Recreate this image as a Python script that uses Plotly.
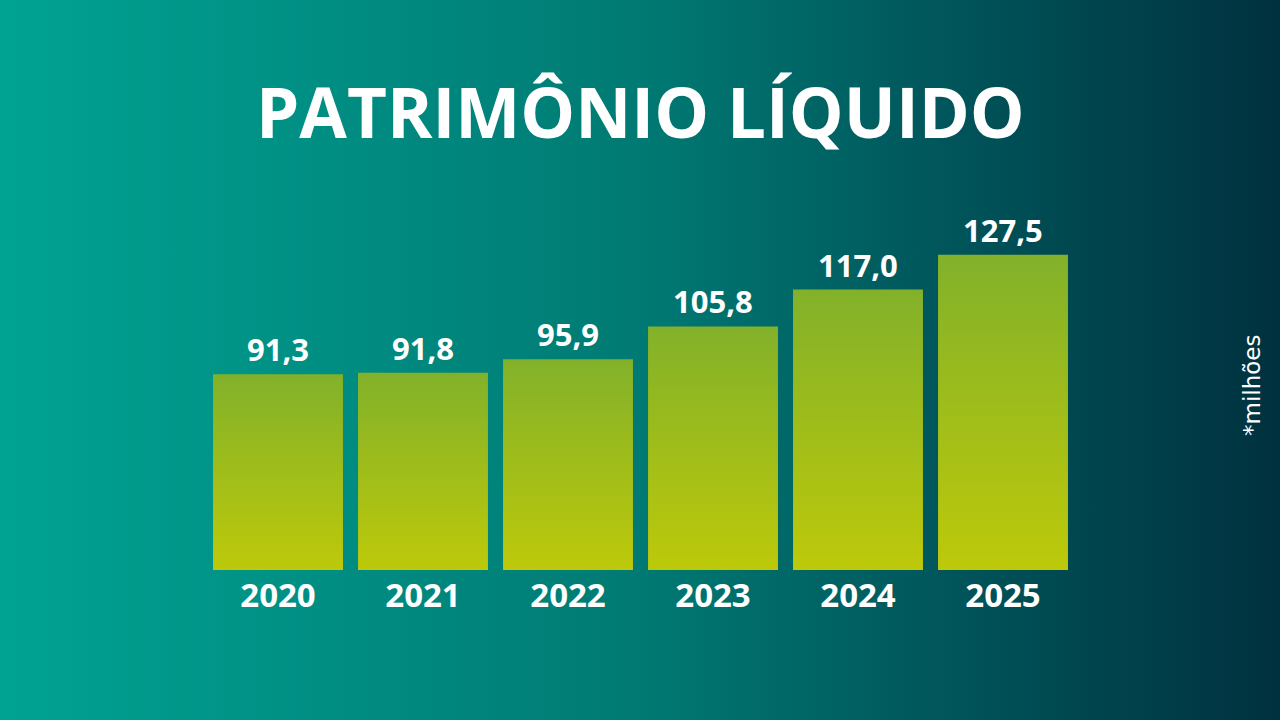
import plotly.graph_objects as go

# ---- data ----
years = ["2020", "2021", "2022", "2023", "2024", "2025"]
values = [91.3, 91.8, 95.9, 105.8, 117.0, 127.5]
value_labels = ["91,3", "91,8", "95,9", "105,8", "117,0", "127,5"]
title_text = "PATRIMÔNIO LÍQUIDO"
unit_text = "*milhões"

# ---- style ----
BASE = 32          # visual baseline of the bars
PX_PER_UNIT = 3.3
Y_TOP = 140
HALF_W = 0.448
BAR_SCALE = [[0, "#bdc90a"], [1, "#82b12a"]]
BG_SCALE = [[0, "#00a392"], [0.3, "#008a80"], [0.5, "#007a73"],
            [0.7, "#005b5f"], [1, "#00313f"]]
FONT = "Open Sans"

fig = go.Figure()

# background gradient (full-figure subplot x/y)
fig.add_trace(go.Scatter(
    x=[0, 1, 1, 0, 0], y=[0, 0, 1, 1, 0],
    xaxis="x", yaxis="y",
    mode="lines", line=dict(width=0),
    fill="toself",
    fillgradient=dict(type="horizontal", colorscale=BG_SCALE),
    hoverinfo="skip", showlegend=False,
))

# bars with vertical gradient (subplot x2/y2)
for i, v in enumerate(values):
    fig.add_trace(go.Scatter(
        x=[i - HALF_W, i + HALF_W, i + HALF_W, i - HALF_W, i - HALF_W],
        y=[BASE, BASE, v, v, BASE],
        xaxis="x2", yaxis="y2",
        mode="lines", line=dict(width=0),
        fill="toself",
        fillgradient=dict(type="vertical", colorscale=BAR_SCALE),
        hoverinfo="skip", showlegend=False,
    ))

annotations = []
for i, (v, lab) in enumerate(zip(values, value_labels)):
    annotations.append(dict(
        x=i, y=v, xref="x2", yref="y2", text=lab, showarrow=False,
        yanchor="bottom", xanchor="center", yshift=2,
        font=dict(family=FONT, size=31, color="white", weight="bold"),
    ))

annotations.append(dict(
    x=0.5, y=(720 - 111) / 720, xref="paper", yref="paper",
    text=title_text, showarrow=False, xanchor="center", yanchor="middle",
    font=dict(family=FONT, size=69, color="white", weight="bold"),
))
annotations.append(dict(
    x=1252 / 1280, y=(720 - 386) / 720, xref="paper", yref="paper",
    text=unit_text, showarrow=False, textangle=-90,
    xanchor="center", yanchor="middle",
    font=dict(family="DejaVu Sans", size=23, color="white"),
))

fig.update_layout(
    width=1280, height=720,
    margin=dict(l=0, r=0, t=0, b=0),
    paper_bgcolor="#00313f",
    plot_bgcolor="rgba(0,0,0,0)",
    showlegend=False,
    hovermode=False,
    xaxis=dict(domain=[0, 1], range=[0, 1], visible=False, fixedrange=True),
    yaxis=dict(domain=[0, 1], range=[0, 1], visible=False, fixedrange=True),
    xaxis2=dict(
        domain=[205.5 / 1280, 1075.5 / 1280], anchor="y2",
        range=[-0.5, len(years) - 0.5],
        tickmode="array", tickvals=list(range(len(years))), ticktext=years,
        showgrid=False, zeroline=False, showline=False, ticks="",
        ticklabelstandoff=3, fixedrange=True,
        tickfont=dict(family=FONT, size=33, color="white", weight="bold"),
    ),
    yaxis2=dict(
        domain=[(720 - 570) / 720, (720 - 570 + (Y_TOP - BASE) * PX_PER_UNIT) / 720],
        anchor="x2", range=[BASE, Y_TOP], visible=False,
        showgrid=False, zeroline=False, fixedrange=True,
    ),
    annotations=annotations,
)

fig.write_html(
    "out.html",
    config={"displayModeBar": False},
    post_script="document.body.style.margin='0';document.body.style.overflow='hidden';",
)
